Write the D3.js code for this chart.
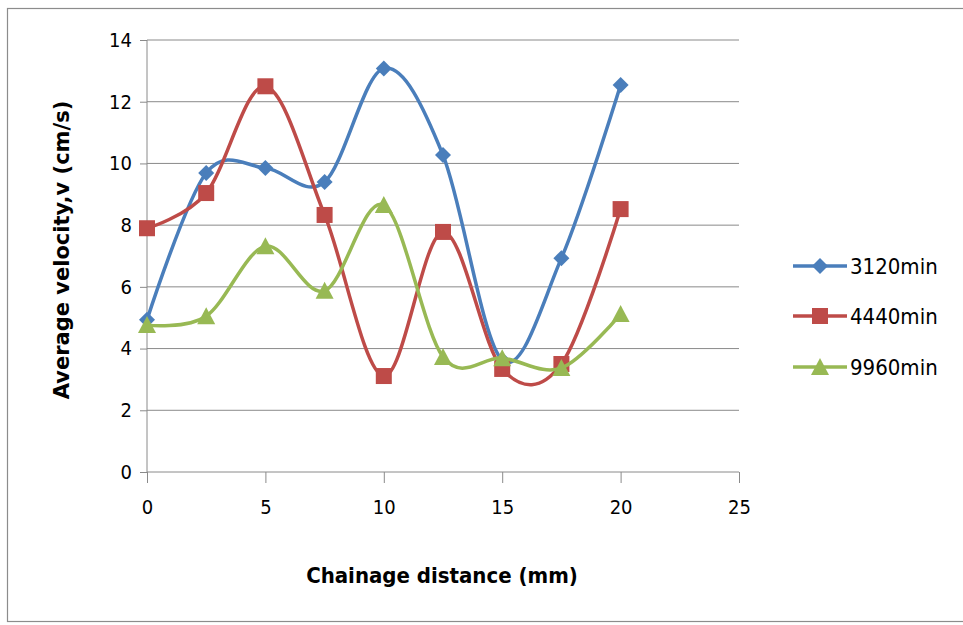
<!DOCTYPE html>
<html><head><meta charset="utf-8">
<script src="https://cdn.jsdelivr.net/npm/d3@7"></script>
<style>body{margin:0;background:#fff;}svg{display:block;} .cond{font-stretch:condensed;}</style>
</head><body>
<script>
const xValues = [0, 2.5, 5, 7.5, 10, 12.5, 15, 17.5, 20];
const s3120 = [4.93, 9.69, 9.85, 9.4, 13.08, 10.27, 3.63, 6.93, 12.54];
const s4440 = [7.9, 9.04, 12.5, 8.33, 3.11, 7.78, 3.34, 3.5, 8.52];
const s9960 = [4.76, 5.05, 7.32, 5.87, 8.65, 3.73, 3.69, 3.37, 5.12];
const seriesNames = ["3120min", "4440min", "9960min"];
const seriesColors = ["#4A7EBB", "#BE4B48", "#98B954"];
const seriesShapes = ["diamond", "square", "triangle"];
const xTicks = [0, 5, 10, 15, 20, 25];
const yTicks = [0, 2, 4, 6, 8, 10, 12, 14];

const W = 963, H = 625;
const svg = d3.select("body").append("svg").attr("width", W).attr("height", H);
svg.append("rect").attr("x", 7.5).attr("y", 8.5).attr("width", W).attr("height", 613)
  .attr("fill", "#fff").attr("stroke", "#8c8c8c").attr("stroke-width", 1.2);

const x = d3.scaleLinear().domain([0, 25]).range([147, 739]);
const y = d3.scaleLinear().domain([0, 14]).range([472, 40]);
const font = "'DejaVu Sans Condensed','DejaVu Sans',sans-serif";
const grid = "#8a8a8a";

svg.append("g").selectAll("line").data(yTicks.filter(d => d > 0)).join("line")
  .attr("x1", x(0)).attr("x2", x(25)).attr("y1", d => y(d)).attr("y2", d => y(d))
  .attr("stroke", grid).attr("stroke-width", 1);

const yAxis = svg.append("g").attr("transform", `translate(${x(0)},0)`)
  .call(d3.axisLeft(y).tickValues(yTicks).tickSize(7).tickPadding(8).tickFormat(d3.format("d")));
const xAxis = svg.append("g").attr("transform", `translate(0,${y(0)})`)
  .call(d3.axisBottom(x).tickValues(xTicks).tickSize(11).tickPadding(17).tickFormat(d3.format("d")));
[xAxis, yAxis].forEach(g => {
  g.select(".domain").attr("stroke", grid).attr("stroke-width", 1);
  g.selectAll(".tick line").attr("stroke", grid);
  g.selectAll("text").attr("class", "cond").attr("font-family", font).attr("font-size", 20).attr("fill", "#000");
});
yAxis.select(".domain").attr("d", `M0,${y(14)}V${y(0)}`);
xAxis.select(".domain").attr("d", `M${x(0)},0H${x(25)}`);

const allSeries = [s3120, s4440, s9960];
const line = d3.line().x((d, i) => x(xValues[i])).y(d => y(d)).curve(d3.curveCatmullRom.alpha(0));

function marker(g, shape, color, cx, cy) {
  if (shape === "diamond") {
    const r = 8;
    g.append("path").attr("d", `M${cx},${cy - r}L${cx + r},${cy}L${cx},${cy + r}L${cx - r},${cy}Z`).attr("fill", color);
  } else if (shape === "square") {
    const s = 16;
    g.append("rect").attr("x", cx - s / 2).attr("y", cy - s / 2).attr("width", s).attr("height", s).attr("fill", color);
  } else {
    const h = 8;
    g.append("path").attr("d", `M${cx},${cy - h - 1}L${cx + h + 1},${cy + h}L${cx - h - 1},${cy + h}Z`).attr("fill", color);
  }
}

allSeries.forEach((vals, si) => {
  const g = svg.append("g");
  g.append("path").datum(vals).attr("d", line).attr("fill", "none")
    .attr("stroke", seriesColors[si]).attr("stroke-width", 3.5);
  vals.forEach((v, i) => marker(g, seriesShapes[si], seriesColors[si], x(xValues[i]), y(v)));
});

const legY = [266, 316, 367];
seriesNames.forEach((n, i) => {
  const g = svg.append("g");
  g.append("line").attr("x1", 793).attr("x2", 847).attr("y1", legY[i]).attr("y2", legY[i])
    .attr("stroke", seriesColors[i]).attr("stroke-width", 3.5);
  marker(g, seriesShapes[i], seriesColors[i], 820, legY[i]);
  g.append("text").attr("class", "cond").attr("x", 850).attr("y", legY[i]).attr("dy", "0.36em")
    .attr("font-family", font).attr("font-size", 22).text(n);
});

svg.append("text").attr("class", "cond").attr("x", 442).attr("y", 583).attr("text-anchor", "middle")
  .attr("font-family", font).attr("font-weight", "bold").attr("font-size", 22)
  .text("Chainage distance (mm)");
svg.append("text").attr("transform", "translate(69,250) rotate(-90)").attr("text-anchor", "middle")
  .attr("font-family", "'DejaVu Sans','Liberation Sans',sans-serif").attr("font-weight", "bold").attr("font-size", 21)
  .text("Average velocity,v (cm/s)");
</script>
</body></html>
